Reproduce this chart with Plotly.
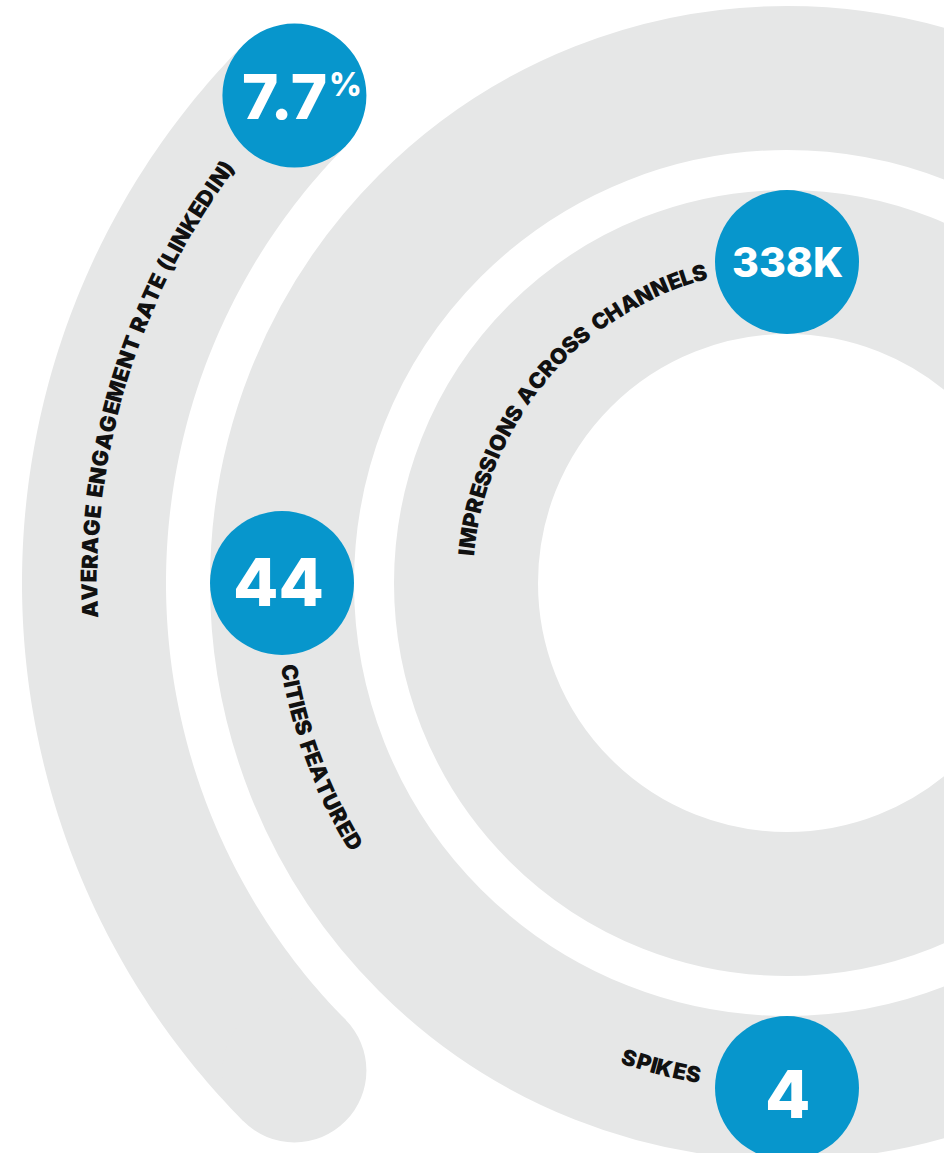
import numpy as np
import plotly.graph_objects as go

# ---------------- data ----------------
metric_values = ["7.7", "338K", "44", "4"]
metric_units = ["%", "", "", ""]
metric_labels = [
    "AVERAGE ENGAGEMENT RATE (LINKEDIN)",
    "IMPRESSIONS ACROSS CHANNELS",
    "CITIES FEATURED",
    "SPIKES",
]

# ---------------- style / layout ----------------
W, H = 944, 1153
CX, CY = 787, 583
RING_W = 144
BLUE = "#0796CC"
GRAY = "#E6E7E7"
INK = "#111111"
BADGE_R = 72
R_OUTER, R_MID, R_INNER = 693, 505, 321
OUTER_ARC = (135.3, 224.7)  # degrees, screen coords (y down)

NUM_FONT = "Inter, 'Open Sans', Lato, sans-serif"
LBL_FONT = "Inter, 'Open Sans', sans-serif"

# badge placement: ring radius, angle
badge_pos = [(R_OUTER, 224.7), (R_INNER, 270.0), (R_MID, 180.0), (R_MID, 90.0)]
badge_font = [62, 41, 66, 66]
badge_text_off = [(-10, 1), (0, 0), (-4, -1), (0, 6)]

# label placement along arcs: radius, start angle, end angle (text edges)
label_arc = [
    (698, 177.2, 217.0),
    (322, 184.9, 255.5),
    (505, 170.8, 148.2),
    (500, 109.2, 100.0),
]
label_font = 22

CHW = {'A': .72, 'V': .70, 'E': .58, 'R': .66, 'G': .76, 'N': .74, 'M': .90,
       'T': .60, '(': .36, ')': .36, 'L': .52, 'I': .29, 'K': .66, 'D': .72,
       ' ': .28, 'P': .64, 'S': .62, 'O': .78, 'C': .72, 'H': .74, 'F': .56,
       'U': .72}


def pt(r, deg):
    a = np.deg2rad(deg)
    return CX + r * np.cos(a), CY + r * np.sin(a)


fig = go.Figure()
shapes = []
annotations = []

# full rings
for r in (R_MID, R_INNER):
    shapes.append(dict(type="circle", xref="x", yref="y",
                       x0=CX - r, x1=CX + r, y0=CY - r, y1=CY + r,
                       line=dict(color=GRAY, width=RING_W), layer="below"))

# outer partial arc (annular sector) + round cap
th = np.linspace(OUTER_ARC[0], OUTER_ARC[1], 200)
ro, ri = R_OUTER + RING_W / 2, R_OUTER - RING_W / 2
xs = [pt(ro, t)[0] for t in th] + [pt(ri, t)[0] for t in th[::-1]]
ys = [pt(ro, t)[1] for t in th] + [pt(ri, t)[1] for t in th[::-1]]
path = "M " + " L ".join(f"{x:.2f},{y:.2f}" for x, y in zip(xs, ys)) + " Z"
shapes.append(dict(type="path", xref="x", yref="y", path=path,
                   fillcolor=GRAY, line=dict(width=0), layer="below"))
capx, capy = pt(R_OUTER, OUTER_ARC[0])
cr = RING_W / 2
shapes.append(dict(type="circle", xref="x", yref="y",
                   x0=capx - cr, x1=capx + cr, y0=capy - cr, y1=capy + cr,
                   fillcolor=GRAY, line=dict(width=0), layer="below"))

# badges
for i, (r, a) in enumerate(badge_pos):
    bx, by = pt(r, a)
    shapes.append(dict(type="circle", xref="x", yref="y",
                       x0=bx - BADGE_R, x1=bx + BADGE_R,
                       y0=by - BADGE_R, y1=by + BADGE_R,
                       fillcolor=BLUE, line=dict(width=0), layer="above"))
    ox, oy = badge_text_off[i]
    annotations.append(dict(x=bx + ox, y=by + oy, xref="x", yref="y",
                            text=metric_values[i], showarrow=False,
                            xanchor="center", yanchor="middle",
                            font=dict(family=NUM_FONT, size=badge_font[i],
                                      color="white", weight=800)))
    if metric_units[i]:
        annotations.append(dict(x=bx + 33, y=by - 11, xref="x", yref="y",
                                text=metric_units[i], showarrow=False,
                                xanchor="left", yanchor="middle",
                                font=dict(family=NUM_FONT, size=32,
                                          color="white", weight=800)))

# curved labels
for txt, (r, a0, a1) in zip(metric_labels, label_arc):
    w = np.array([CHW.get(c, .6) for c in txt])
    tot = w.sum()
    cum = np.cumsum(w) - w / 2
    inc = a1 > a0
    for c, f in zip(txt, cum / tot):
        if c == " ":
            continue
        a = a0 + f * (a1 - a0)
        ar = np.deg2rad(a)
        x, y = pt(r, a)
        if inc:
            ang = np.degrees(np.arctan2(np.cos(ar), -np.sin(ar)))
        else:
            ang = np.degrees(np.arctan2(-np.cos(ar), np.sin(ar)))
        annotations.append(dict(x=x, y=y, xref="x", yref="y", text=c,
                                showarrow=False, textangle=ang,
                                xanchor="center", yanchor="middle",
                                font=dict(family=LBL_FONT, size=label_font,
                                          color=INK, weight=900)))

fig.update_layout(
    width=W, height=H, margin=dict(l=0, r=0, t=0, b=0),
    paper_bgcolor="white", plot_bgcolor="white",
    xaxis=dict(range=[0, W], visible=False, fixedrange=True),
    yaxis=dict(range=[H, 0], visible=False, fixedrange=True),
    shapes=shapes, annotations=annotations, showlegend=False,
)

fig.write_html("out.html", config={"displayModeBar": False},
               post_script="document.body.style.margin='0';document.body.style.overflow='hidden';")
